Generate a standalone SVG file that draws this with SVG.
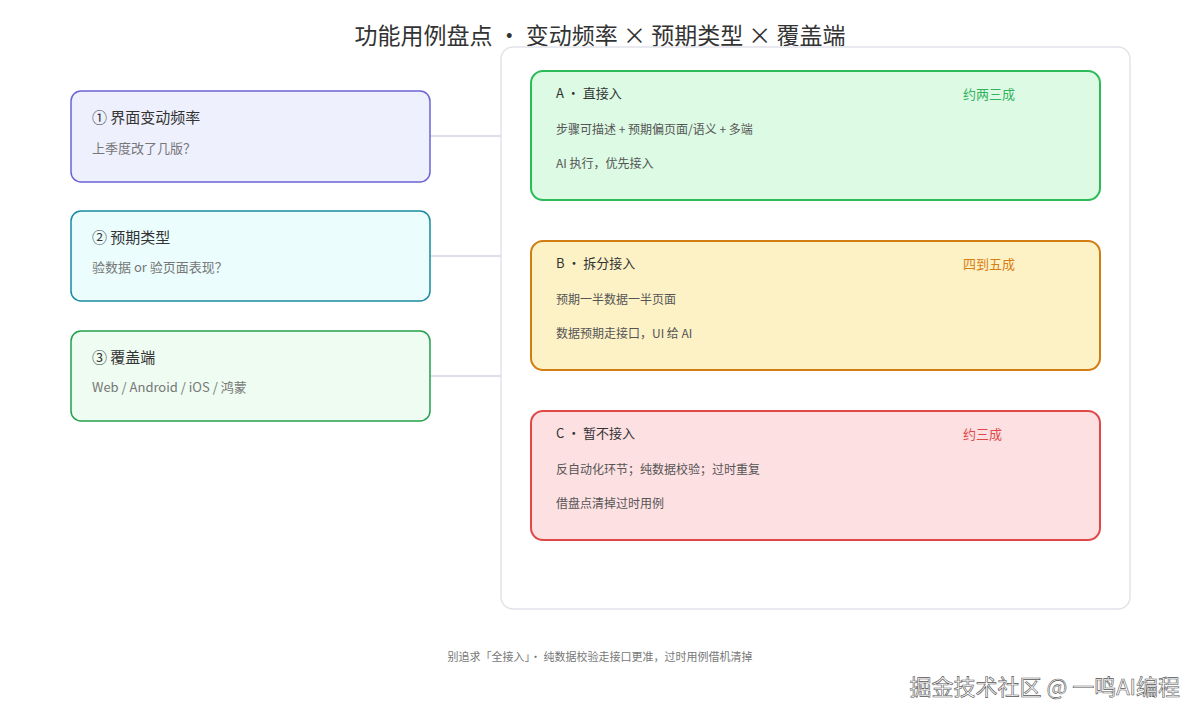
<svg xmlns="http://www.w3.org/2000/svg" width="1200" height="720" viewBox="0 0 1200 720">
<style>
text{font-family:"Noto Sans CJK SC","Noto Sans",sans-serif}
.t{font-size:15px;fill:#333}
.s{font-size:13px;fill:#777}
.h{font-size:13px;fill:#333}
.b{font-size:12px;fill:#555}
.conn{stroke:#d3d6e0;stroke-width:1.5;fill:none}
</style>
<rect width="1200" height="720" fill="#fff"/>
<text x="600" y="44" text-anchor="middle" font-size="23" fill="#333">功能用例盘点 · 变动频率 × 预期类型 × 覆盖端</text>
<rect x="501" y="47" width="629" height="562" rx="12" fill="#fff" stroke="#e2e4ea" stroke-width="1.5"/>
<g id="connectors">
<line class="conn" x1="430" y1="136" x2="501" y2="136"/>
<line class="conn" x1="430" y1="256" x2="501" y2="256"/>
<line class="conn" x1="430" y1="376" x2="501" y2="376"/>
</g>
<g id="n1"><rect x="71" y="91" width="359" height="91" rx="10" fill="#eef0fd" stroke="#6b63d6" stroke-width="1.5"/>
<text class="t" x="92" y="123">① 界面变动频率</text><text class="s" x="92" y="153">上季度改了几版？</text></g>
<g id="n2"><rect x="71" y="211" width="359" height="90" rx="10" fill="#ebfdfd" stroke="#1a8aa0" stroke-width="1.5"/>
<text class="t" x="92" y="243">② 预期类型</text><text class="s" x="92" y="272">验数据 or 验页面表现？</text></g>
<g id="n3"><rect x="71" y="331" width="359" height="90" rx="10" fill="#eefcf1" stroke="#22a04a" stroke-width="1.5"/>
<text class="t" x="92" y="363">③ 覆盖端</text><text class="s" x="92" y="392">Web / Android / iOS / 鸿蒙</text></g>
<g id="A"><rect x="531" y="71" width="569" height="129" rx="12" fill="#dcfae4" stroke="#2dbb5a" stroke-width="2"/>
<text class="h" x="556" y="98">A · 直接入</text><text x="963" y="99" font-size="13" fill="#34b35e">约两三成</text>
<text class="b" x="556" y="134">步骤可描述 + 预期偏页面/语义 + 多端</text><text class="b" x="556" y="168">AI 执行，优先接入</text></g>
<g id="B"><rect x="531" y="241" width="569" height="129" rx="12" fill="#fdf2c6" stroke="#d17d12" stroke-width="2"/>
<text class="h" x="556" y="268">B · 拆分接入</text><text x="963" y="269" font-size="13" fill="#d97d12">四到五成</text>
<text class="b" x="556" y="304">预期一半数据一半页面</text><text class="b" x="556" y="338">数据预期走接口，UI 给 AI</text></g>
<g id="C"><rect x="531" y="411" width="569" height="129" rx="12" fill="#fde0e2" stroke="#e04848" stroke-width="2"/>
<text class="h" x="556" y="438">C · 暂不接入</text><text x="963" y="439" font-size="13" fill="#e04848">约三成</text>
<text class="b" x="556" y="474">反自动化环节；纯数据校验；过时重复</text><text class="b" x="556" y="508">借盘点清掉过时用例</text></g>
<text x="600" y="661" text-anchor="middle" font-size="11" fill="#777">别追求「全接入」· 纯数据校验走接口更准，过时用例借机清掉</text>
<text x="1180" y="695" text-anchor="end" font-size="22" fill="#fff" stroke="#555" stroke-width="0.6">掘金技术社区 @ 一鸣AI编程</text>
</svg>
